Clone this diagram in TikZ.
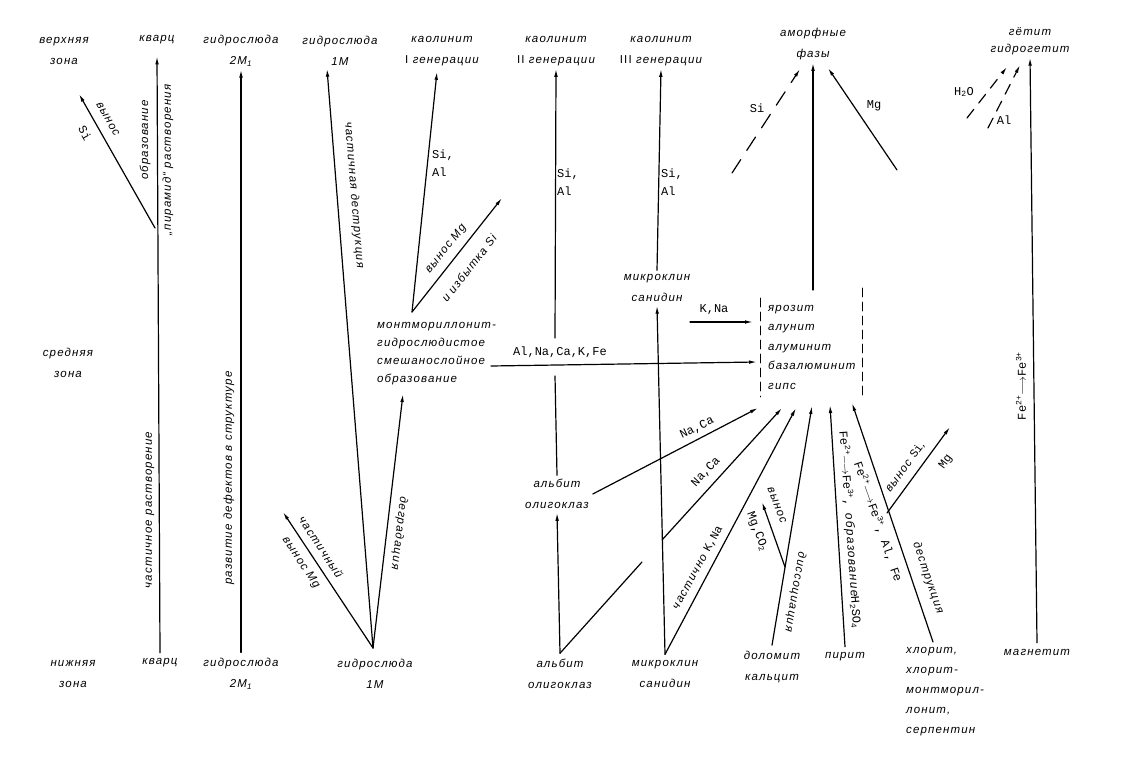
\documentclass[tikz,border=0pt]{standalone}
\usepackage{fontspec}
\setmainfont{Liberation Sans}
\newfontfamily\rufont{Liberation Sans}[LetterSpace=10]
\newfontfamily\elfont{Liberation Mono}
\usetikzlibrary{arrows.meta}

\begin{document}
\begin{tikzpicture}[x=1pt,y=-1pt,line cap=round,line join=round,
  txt/.style={font=\rufont\itshape\fontsize{11.5}{21}\selectfont,align=center,inner sep=0pt},
  el/.style={font=\elfont\fontsize{12}{18}\selectfont,align=left,inner sep=0pt},
  ln/.style={line width=1.2pt},
  ar/.style={ln,-{Latex[length=8pt,width=3.6pt]}},
  dar/.style={ar,dash pattern=on 16pt off 11pt},
  box/.style={line width=0.7pt,dash pattern=on 9pt off 5pt}]

  \useasboundingbox (0,0) rectangle (1124,759);

  % zones
  \node[txt] (vz) at (64,51) {верхняя\\зона};
  \node[txt] (sz) at (68,363) {средняя\\зона};
  \node[txt] (nz) at (73,674) {нижняя\\зона};

  % top row
  \node[txt,outer sep=12pt] (qt) at (157,40) {кварц};
  \node[txt,outer sep=3pt] (h2t) at (241,51) {гидрослюда\\2M\textsubscript{1}};
  \node[txt,outer sep=3pt] (h1t) at (340,51) {гидрослюда\\1M};
  \node[txt,outer sep=6pt] (k1t) at (442,51) {каолинит\\\textup{I} генерации};
  \node[txt,outer sep=3pt] (k2t) at (556,51) {каолинит\\\textup{II} генерации};
  \node[txt,outer sep=3pt] (k3t) at (661,51) {каолинит\\\textup{III} генерации};
  \node[txt,outer sep=3pt] (amt) at (813,44) {аморфные\\фазы};
  \node[txt,font=\rufont\itshape\fontsize{11.5}{17}\selectfont,outer sep=3pt] (got) at (1030,41) {гётит\\гидрогетит};

  % middle row
  \node[txt,align=left,anchor=north west,font=\rufont\itshape\fontsize{11.5}{18}\selectfont] (mont) at (377,322)
    {монтмориллонит-\\гидрослюдистое\\смешанослойное\\образование};
  \node[txt,outer sep=4pt] (mkm) at (657,288) {микроклин\\санидин};
  \node[txt,outer sep=4pt] (abm) at (557,494) {альбит\\олигоклаз};
  \node[txt,align=left,anchor=north west,font=\rufont\itshape\fontsize{11.5}{19.5}\selectfont] (box) at (768,305)
    {ярозит\\алунит\\алуминит\\базалюминит\\гипс};

  % bottom row
  \node[txt,outer sep=6pt] (qb) at (160,663) {кварц};
  \node[txt,outer sep=6pt] (h2b) at (241,674) {гидрослюда\\2M\textsubscript{1}};
  \node[txt,outer sep=6pt] (h1b) at (375,674) {гидрослюда\\1M};
  \node[txt,outer sep=6pt] (abb) at (560,674) {альбит\\олигоклаз};
  \node[txt,outer sep=6pt] (mkb) at (665,674) {микроклин\\санидин};
  \node[txt,outer sep=6pt] (dob) at (772,667) {доломит\\кальцит};
  \node[txt,outer sep=6pt] (pyb) at (845,657) {пирит};
  \node[txt,align=left,anchor=north west,font=\rufont\itshape\fontsize{11.5}{20}\selectfont] (clb) at (906,647)
    {хлорит,\\хлорит-\\монтморил-\\лонит,\\серпентин};
  \node[txt,outer sep=6pt] (mgb) at (1037,652) {магнетит};

  % end points
  \coordinate (qbr) at (155,228);
  \coordinate (qsi) at (79,94);
  \coordinate (hub) at (373,648);
  \coordinate (hmg) at (283,512);
  \coordinate (deg) at (403,394);
  \coordinate (k1o) at (412,312);
  \coordinate (kmg) at (502,198);
  \coordinate (m0) at (491,366);
  \coordinate (m1) at (757,362);
  \coordinate (k2a) at (555,376);
  \coordinate (k2b) at (555,338);
  \coordinate (kn0) at (690,322);
  \coordinate (kn1) at (753,322);
  \coordinate (t1) at (758,408);
  \coordinate (t2) at (782,408);
  \coordinate (t3) at (796,408);
  \coordinate (t4) at (812,406);
  \coordinate (t5) at (830,405);
  \coordinate (t6) at (852,403);
  \coordinate (ng0) at (642,562);
  \coordinate (ng1) at (662,540);
  \coordinate (dbr) at (785,567);
  \coordinate (dmg) at (762,502);
  \coordinate (cl0) at (933,642);
  \coordinate (cbr) at (887,513);
  \coordinate (cmg) at (950,427);
  \coordinate (am0) at (813,290);
  \coordinate (si0) at (732,173);
  \coordinate (si1) at (800,69);
  \coordinate (mg0) at (897,170);
  \coordinate (mg1) at (828,68);
  \coordinate (w0) at (967,118);
  \coordinate (w1) at (1007,67);
  \coordinate (al0) at (988,128);
  \coordinate (al1) at (1020,65);

  % quartz and hydromica
  \draw[ar] (qb.north) -- (qt.south);
  \draw[ar] (qbr) -- (qsi);
  \draw[ar] (h2b.north) -- (h2t.south);
  \draw[ar] (hub) -- ([xshift=-13pt]h1t.south);
  \draw[ar] (hub) -- (hmg);
  \draw[ar] (hub) -- (deg);
  \draw[ar] (k1o) -- ([xshift=-5pt]k1t.south);
  \draw[ar] (k1o) -- (kmg);
  \draw[ar] (m0) -- (m1);

  % feldspars
  \draw[ln] (abm.north) -- (k2a);
  \draw[ar] (k2b) -- (k2t.south);
  \draw[ar] (abb.north) -- (abm.south);
  \draw[ar] (abm.east) -- (t1);
  \draw[ln] (abb.north) -- (ng0);
  \draw[ar] (ng1) -- (t2);
  \draw[ar] (mkb.north) -- (mkm.south);
  \draw[ar] (mkm.north) -- (k3t.south);
  \draw[ar] (kn0) -- (kn1);
  \draw[ar] (mkb.north) -- (t3);

  % carbonates, pyrite, chlorite
  \draw[ar] (dob.north) -- (t4);
  \draw[ar] (dbr) -- (dmg);
  \draw[ar] (pyb.north) -- (t5);
  \draw[ar] (cl0) -- (t6);
  \draw[ar] (cbr) -- (cmg);

  % amorphous phases, goethite
  \draw[ar] (am0) -- (amt.south);
  \draw[dar] (si0) -- (si1);
  \draw[ar] (mg0) -- (mg1);
  \draw[ar] (mgb.north) -- (got.south);
  \draw[ar,dash pattern=on 11pt off 8pt] (w0) -- (w1);
  \draw[ar,dash pattern=on 11pt off 8pt] (al0) -- (al1);

  % sulphate box
  \draw[box] (760,298) -- (760,397);
  \draw[box] (862,288) -- (862,397);

  % labels on the arrows
  \node[txt,rotate=-61] (l1) at (108,119) {вынос};
  \node[el,rotate=-61] (l2) at (85,133) {Si};
  \node[txt,rotate=90] (l3) at (145,140) {образование};
  \node[txt,rotate=90] (l4) at (168,160) {„пирамид“ растворения};
  \node[txt,rotate=90] (l5) at (150,510) {частичное растворение};
  \node[txt,rotate=90] (l6) at (229,478) {развитие дефектов в структуре};
  \node[txt,rotate=-85.3] (l7) at (354,195) {частичная деструкция};
  \node[txt,rotate=-56.5] (l8) at (321,547) {частичный};
  \node[txt,rotate=-56.5] (l9) at (301,563) {вынос Mg};
  \node[txt,rotate=-96.7] (l10) at (399,533) {деградация};
  \node[el] (l11) at (443,163) {Si,\\Al};
  \node[txt,rotate=51.7] (l12) at (446,249) {вынос Mg};
  \node[txt,rotate=51.7] (l13) at (469,268) {и избытка Si};
  \node[el] (l14) at (560,352) {Al,Na,Ca,K,Fe};
  \node[el] (l15) at (568,182) {Si,\\Al};
  \node[el] (l16) at (672,182) {Si,\\Al};
  \node[el] (l17) at (714,310) {K,Na};
  \node[el,rotate=25.6] (l18) at (697,428) {Na,Ca};
  \node[el,rotate=47.2] (l19) at (706,472) {Na,Ca};
  \node[txt,rotate=61.4] (l20) at (698,568) {частично {\elfont\upshape K,Na}};
  \node[txt,rotate=-69] (l21) at (777,505) {вынос};
  \node[el,rotate=-69] (l22) at (757,532) {Mg,CO\textsubscript{2}};
  \node[txt,rotate=-99.7] (l23) at (795,592) {диссоциация};
  \node[el,rotate=-86] (l24) at (850,530)
    {Fe\textsuperscript{2+}$\longrightarrow$Fe\textsuperscript{3+}, {\rufont\itshape образование}H\textsubscript{2}SO\textsubscript{4}};
  \node[el,rotate=-71] (l25) at (878,522) {Fe\textsuperscript{2+}$\longrightarrow$Fe\textsuperscript{3+}, Al, Fe};
  \node[txt,rotate=-71] (l26) at (928,578) {деструкция};
  \node[txt,rotate=53.8] (l27) at (905,467) {вынос {\elfont\upshape Si},};
  \node[el,rotate=53.8] (l28) at (946,462) {Mg};
  \node[el,rotate=90] (l29) at (1021,386) {Fe\textsuperscript{2+}$\longrightarrow$Fe\textsuperscript{3+}};
  \node[el] (l30) at (757,108) {Si};
  \node[el] (l31) at (874,106) {Mg};
  \node[el] (l32) at (964,92) {H\textsubscript{2}O};
  \node[el] (l33) at (1004,120) {Al};
\end{tikzpicture}
\end{document}
